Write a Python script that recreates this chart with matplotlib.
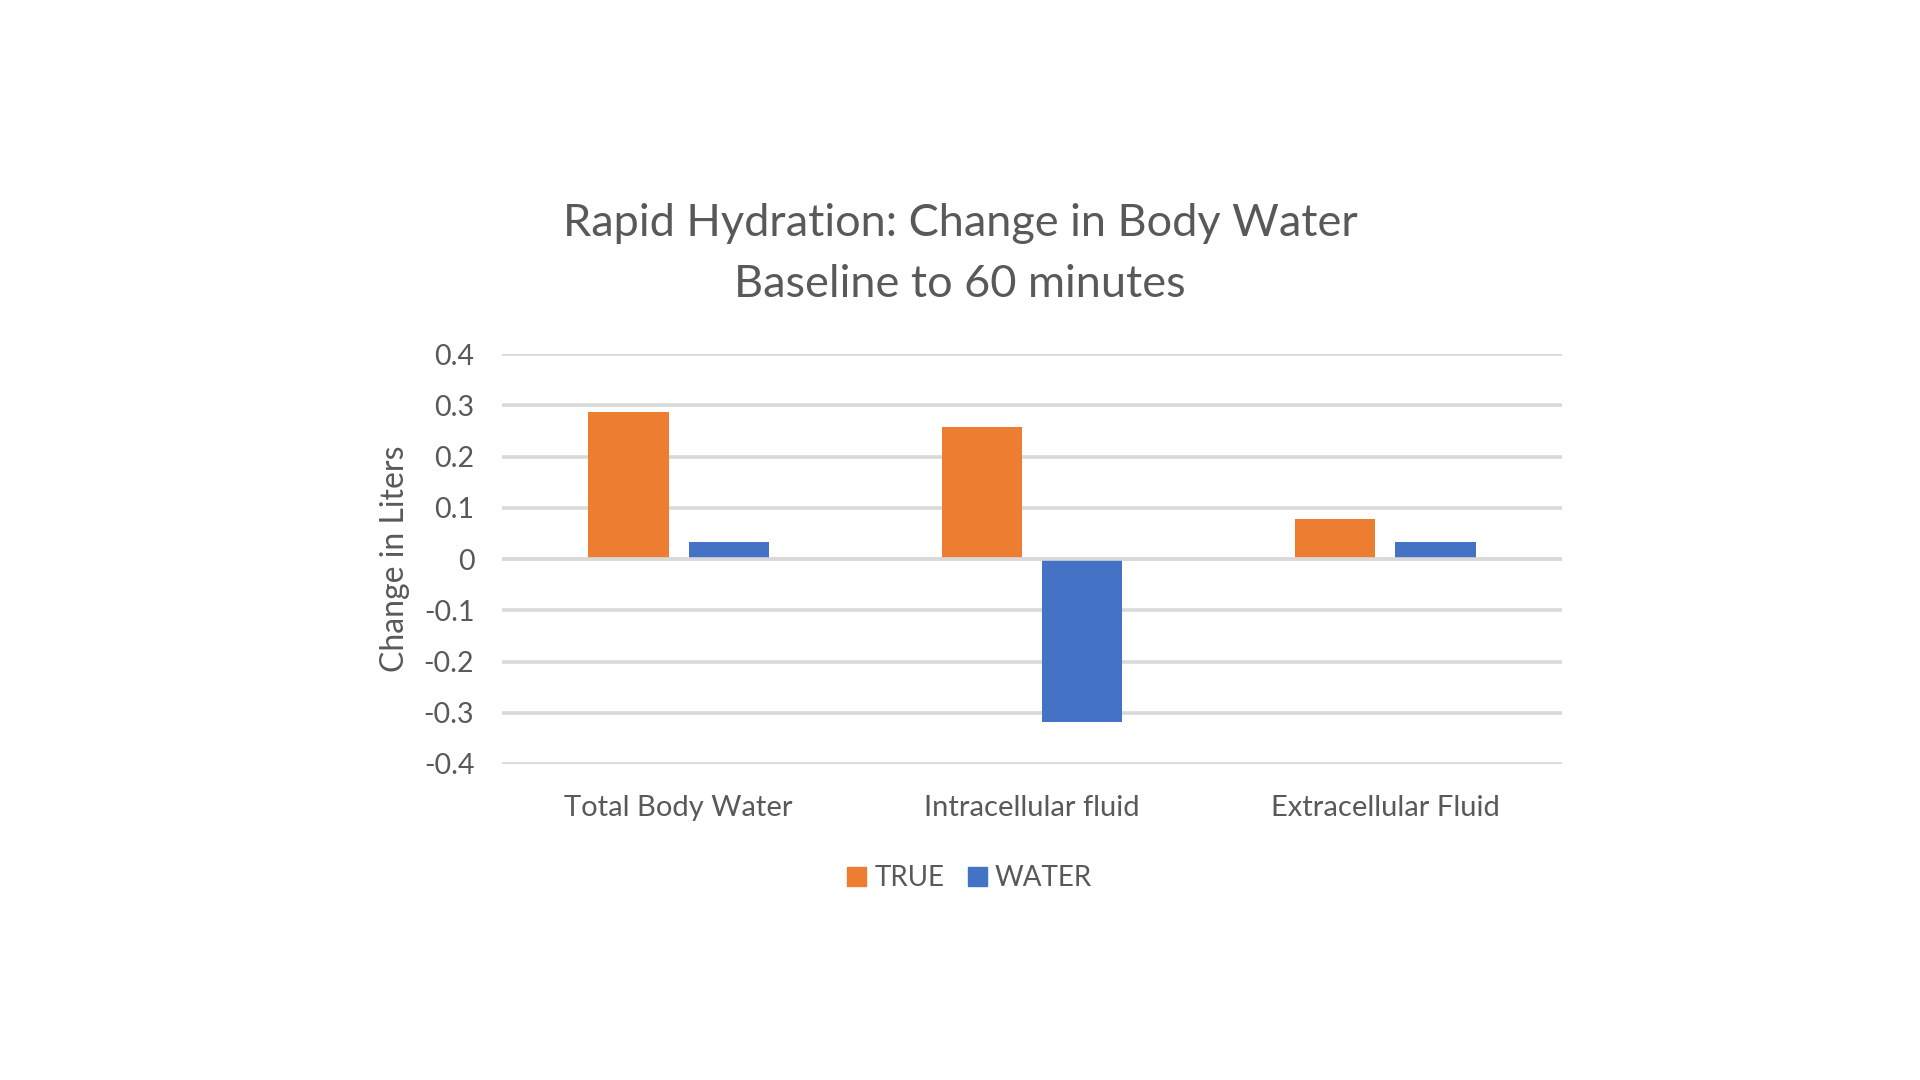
import matplotlib
matplotlib.use("Agg")
import matplotlib.pyplot as plt
import numpy as np
from matplotlib.patches import Patch

categories = ["Total Body Water", "Intracellular fluid", "Extracellular Fluid"]
series_names = ["TRUE", "WATER"]
true_vals = [0.287, 0.257, 0.078]
water_vals = [0.033, -0.319, 0.033]
yticks = [-0.4, -0.3, -0.2, -0.1, 0, 0.1, 0.2, 0.3, 0.4]
ytick_labels = ["-0.4", "-0.3", "-0.2", "-0.1", "0", "0.1", "0.2", "0.3", "0.4"]

ORANGE = "#ED7D31"
BLUE = "#4472C4"
TEXT = "#595959"
GRID = "#D9D9D9"
FONT = ["Lato", "DejaVu Sans"]

plt.rcParams["font.family"] = FONT

fig = plt.figure(figsize=(19.2, 10.8), dpi=100)
ax = fig.add_axes([0.2615, 0.2926, 0.552, 0.3796])

x = np.arange(len(categories))
w = 0.227
off = 0.142
ax.bar(x - off, true_vals, w, color=ORANGE, zorder=3)
ax.bar(x + off, water_vals, w, color=BLUE, zorder=3)

ax.set_xlim(-0.5, len(categories) - 0.5)
ax.set_ylim(-0.4, 0.4)
ax.set_yticks(yticks)
ax.set_yticklabels(ytick_labels)
ax.set_xticks(x)
ax.set_xticklabels(categories)
ax.tick_params(axis="y", length=0, labelsize=20.5, colors=TEXT, pad=20)
ax.tick_params(axis="x", length=0, labelsize=21, colors=TEXT, pad=22)

ax.grid(axis="y", color=GRID, linewidth=2.6, zorder=0)
ax.grid(axis="x", visible=False)
ax.axhline(0, color=GRID, linewidth=2.6, zorder=4)
for s in ax.spines.values():
    s.set_visible(False)

ax.set_ylabel("Change in Liters", fontsize=23, color=TEXT, labelpad=10)

fig.text(0.5, 0.793, "Rapid Hydration: Change in Body Water", ha="center", va="center",
         fontsize=32.5, color=TEXT)
fig.text(0.5, 0.737, "Baseline to 60 minutes", ha="center", va="center",
         fontsize=32.5, color=TEXT)

handles = [Patch(color=ORANGE), Patch(color=BLUE)]
leg = fig.legend(handles, series_names, loc="center", bbox_to_anchor=(0.505, 0.187),
                 ncol=2, frameon=False, fontsize=20, handlelength=0.68, handleheight=0.68,
                 handletextpad=0.3, columnspacing=0.85)
for t in leg.get_texts():
    t.set_color(TEXT)

fig.savefig("out.png", dpi=100, facecolor="white")
